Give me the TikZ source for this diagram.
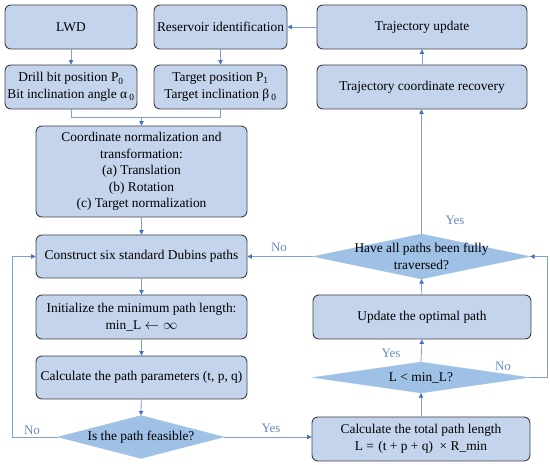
\documentclass[tikz,border=0pt]{standalone}
\usepackage{fontspec}
\setmainfont{Liberation Serif}
\usetikzlibrary{shapes.geometric,arrows.meta}
\definecolor{boxfill}{HTML}{C3D4EC}
\definecolor{boxdraw}{HTML}{404040}
\definecolor{diafill}{HTML}{9EC1E5}
\definecolor{linec}{HTML}{7F9FD6}
\definecolor{tipc}{HTML}{4472C4}
\definecolor{lblc}{HTML}{6A8BC6}
\tikzset{
  box/.style={draw=boxdraw, line width=0.9pt, fill=boxfill, rounded corners=6pt,
    align=center, inner sep=1pt, font=\fontsize{13.4}{16.5}\selectfont},
  dia/.style={diamond, fill=diafill, draw=diafill, inner sep=0pt},
  dtxt/.style={align=center, font=\fontsize{13.4}{16.5}\selectfont, inner sep=0pt},
  conn/.style={draw=linec, line width=0.8pt, -{Triangle[width=4.5pt,length=4.5pt,color=tipc]}},
  plain/.style={draw=linec, line width=0.8pt},
  lbl/.style={text=lblc, font=\fontsize{13}{15}\selectfont, inner sep=0pt},
}
\begin{document}
\begin{tikzpicture}[x=1pt,y=-1pt]
\useasboundingbox (0,0) rectangle (550,465);
% left top boxes
\node[box, minimum width=132pt, minimum height=44pt] (lwd) at (71,27) {LWD};
\node[box, minimum width=133pt, minimum height=44pt] (res) at (220.5,27) {Reservoir identification};
\node[box, minimum width=210pt, minimum height=44pt] (tu) at (422,27) {Trajectory update};
\node[box, minimum width=132pt, minimum height=44pt] (drill) at (71,87) {Drill bit position P\textsubscript{0}\\Bit inclination angle α\,\textsubscript{0}};
\node[box, minimum width=133pt, minimum height=44pt] (target) at (220.5,87) {Target position P\textsubscript{1}\\Target inclination β\,\textsubscript{0}};
\node[box, minimum width=210pt, minimum height=44pt] (tcr) at (422,87) {Trajectory coordinate recovery};
\node[box, minimum width=211pt, minimum height=91pt] (coord) at (141.5,171.5) {Coordinate normalization and\\transformation:\\(a) Translation\\(b) Rotation\\(c) Target normalization};
\node[box, minimum width=211pt, minimum height=43pt] (cons) at (141.5,256.5) {Construct six standard Dubins paths};
\node[box, minimum width=211pt, minimum height=44pt] (init) at (141.5,317) {Initialize the minimum path length:\\min\_L $\leftarrow\infty$};
\node[box, minimum width=211pt, minimum height=43pt] (calc) at (141.5,377.5) {Calculate the path parameters (t, p, q)};
\node[dia, minimum width=166pt, minimum height=43pt] (feas) at (141,437) {};
\node[dtxt] (feasT) at (feas) {Is the path feasible?};
% right column
\node[box, minimum width=218pt, minimum height=44pt] (total) at (421,439) {Calculate the total path length\\L =\,\,(t + p + q)\,\,\,× R\_min};
\node[dia, minimum width=216pt, minimum height=31pt] (lmin) at (421,377.5) {};
\node[dtxt] (lminT) at (lmin) {L < min\_L?};
\node[box, minimum width=218pt, minimum height=44pt] (upd) at (422,317) {Update the optimal path};
\node[dia, minimum width=217pt, minimum height=45pt] (have) at (421.5,256.5) {};
\node[dtxt] (haveT) at (have) {Have all paths been fully\\traversed?};
% coordinates
\coordinate (m) at (141.5,117);
\coordinate (fl) at (12,437);
\coordinate (rr) at (547,377.5);
% connectors
\draw[conn] (lwd) -- (drill);
\draw[conn] (res) -- (target);
\draw[plain] (drill.south) |- (m);
\draw[plain] (target.south) |- (m);
\draw[conn] (m) -- (coord.north);
\draw[conn] (coord) -- (cons);
\draw[conn] (cons) -- (init);
\draw[conn] (init) -- (calc);
\draw[conn] (calc) -- (feas.north);
\draw[conn] (feas.west) -- (fl) |- (cons.west);
\draw[conn] (feas.east) -- (feas.east -| total.west);
\draw[conn] (total) -- (lmin.south);
\draw[conn] (lmin.north) -- (upd.south);
\draw[conn] (upd) -- (have.south);
\draw[conn] (lmin.east) -- (rr) |- (have.east);
\draw[conn] (have.west) -- (have.west -| cons.east);
\draw[conn] (have.north) -- (have.north |- tcr.south);
\draw[conn] (tcr) -- (tu);
\draw[conn] (tu) -- (res);
% labels
\node[lbl] (l1) at (32,430) {No};
\node[lbl] (l2) at (271,428) {Yes};
\node[lbl] (l3) at (391,353) {Yes};
\node[lbl] (l4) at (503,366) {No};
\node[lbl] (l5) at (279,247) {No};
\node[lbl] (l6) at (455,220) {Yes};
\end{tikzpicture}
\end{document}
